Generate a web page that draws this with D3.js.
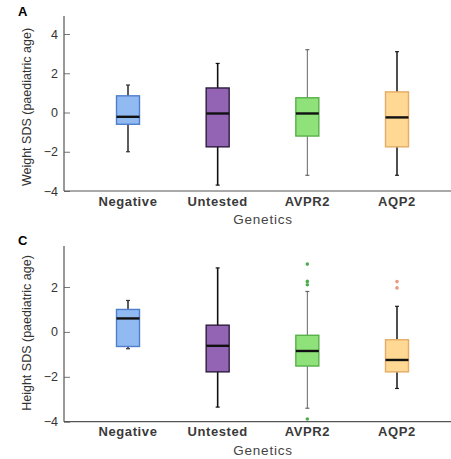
<!DOCTYPE html>
<html>
<head>
<meta charset="utf-8">
<script src="https://cdn.jsdelivr.net/npm/d3@7"></script>
<style>
  body { margin: 0; background: #fff; }
  text { font-family: "Liberation Sans", Arial, sans-serif; }
</style>
</head>
<body>
<svg id="chart" width="451" height="459"></svg>
<script>
// Box plots of weight and height SDS by genetics group

const categories = ["Negative", "Untested", "AVPR2", "AQP2"];

// [whisker low, Q1, median, Q3, whisker high]
const weightStats = [
  [-2.0, -0.6, -0.22, 0.85, 1.4],
  [-3.7, -1.75, -0.05, 1.25, 2.5],
  [-3.2, -1.2, -0.05, 0.75, 3.2],
  [-3.2, -1.75, -0.25, 1.05, 3.1]
];
const heightStats = [
  [-0.75, -0.65, 0.6, 1.0, 1.4],
  [-3.35, -1.78, -0.62, 0.3, 2.85],
  [-3.4, -1.52, -0.85, -0.15, 1.8],
  [-2.52, -1.78, -1.25, -0.35, 1.14]
];
const heightOutliers = [
  [],
  [],
  [3.02, 2.25, 2.1, -3.88],
  [2.24, 1.96]
];
const weightTicks = [-4, -2, 0, 2, 4];
const heightTicks = [-4, -2, 0, 2];

const fills = ["#91b9f2", "#9464b4", "#8fe27a", "#ffd894"];
const strokes = ["#4f7fcc", "#2b1d3d", "#58b04a", "#e4ac66"];
const whiskerCol = ["#333", "#111", "#666", "#222"];
const outlierCol = ["#4a7fd0", "#7a4c9a", "#4cae4c", "#e89a80"];

const svg = d3.select("#chart");

function panel(opt) {
  const g = svg.append("g");
  const y = d3.scaleLinear().domain(opt.domain).range([opt.bottom, opt.top]);
  const x = d3.scalePoint().domain(categories).range([128, 397]);
  const left = 64, right = 451;

  // y axis
  const ya = g.append("g")
    .attr("transform", `translate(${left},0)`)
    .call(d3.axisLeft(y).tickValues(opt.ticks).tickSize(-6).tickPadding(6)
      .tickFormat(d => d < 0 ? "\u2212" + Math.abs(d) : d));
  ya.select(".domain").remove();
  ya.selectAll("line").attr("stroke", "#777");
  ya.selectAll("text").attr("font-size", 12.5).attr("fill", "#333");
  g.append("line").attr("x1", left).attr("x2", left)
    .attr("y1", opt.axisTop).attr("y2", opt.bottom)
    .attr("stroke", "#555").attr("stroke-width", 1.2);
  g.append("line").attr("x1", left).attr("x2", right)
    .attr("y1", opt.bottom).attr("y2", opt.bottom)
    .attr("stroke", "#555").attr("stroke-width", 1.2);

  // boxes
  const bw = 23;
  opt.stats.forEach((s, i) => {
    const cx = x(categories[i]);
    g.append("line").attr("x1", cx).attr("x2", cx)
      .attr("y1", y(s[0])).attr("y2", y(s[4]))
      .attr("stroke", whiskerCol[i]).attr("stroke-width", i === 2 ? 1 : 1.6);
    [s[0], s[4]].forEach(v => g.append("line")
      .attr("x1", cx - 2).attr("x2", cx + 2)
      .attr("y1", y(v)).attr("y2", y(v))
      .attr("stroke", whiskerCol[i]).attr("stroke-width", 1.2));
    g.append("rect").attr("x", cx - bw / 2).attr("width", bw)
      .attr("y", y(s[3])).attr("height", y(s[1]) - y(s[3]))
      .attr("fill", fills[i]).attr("stroke", strokes[i]).attr("stroke-width", 1.4);
    g.append("line").attr("x1", cx - bw / 2).attr("x2", cx + bw / 2)
      .attr("y1", y(s[2])).attr("y2", y(s[2]))
      .attr("stroke", "#111").attr("stroke-width", 2.4);
    (opt.outliers ? opt.outliers[i] : []).forEach(v => g.append("circle")
      .attr("cx", cx).attr("cy", y(v)).attr("r", 1.8)
      .attr("fill", outlierCol[i]));
  });

  // labels
  categories.forEach(c => g.append("text")
    .attr("x", x(c)).attr("y", opt.bottom + 14.5)
    .attr("text-anchor", "middle").attr("font-size", 13)
    .attr("letter-spacing", 0.6)
    .attr("font-weight", "bold").attr("fill", "#3a3a3a").text(c));
  g.append("text").attr("x", 263).attr("y", opt.bottom + 33)
    .attr("text-anchor", "middle").attr("font-size", 13.5)
    .attr("letter-spacing", 0.8)
    .attr("fill", "#444").text("Genetics");
  g.append("text")
    .attr("transform", `translate(31,${opt.labelY}) rotate(-90)`)
    .attr("text-anchor", "middle").attr("font-size", 12.5)
    .attr("fill", "#333").text(opt.ylabel);
  g.append("text").attr("x", 18).attr("y", opt.letterY)
    .attr("font-size", 13).attr("font-weight", "bold").text(opt.letter);
}

panel({
  domain: [-4, 4], top: 34, bottom: 191, axisTop: 16,
  ticks: weightTicks, stats: weightStats,
  ylabel: "Weight SDS (paediatric age)", labelY: 107,
  letter: "A", letterY: 16
});
panel({
  domain: [-4, 2], top: 287, bottom: 421.7, axisTop: 246,
  ticks: heightTicks, stats: heightStats, outliers: heightOutliers,
  ylabel: "Height SDS (paediatric age)", labelY: 333,
  letter: "C", letterY: 245
});
</script>
</body>
</html>
